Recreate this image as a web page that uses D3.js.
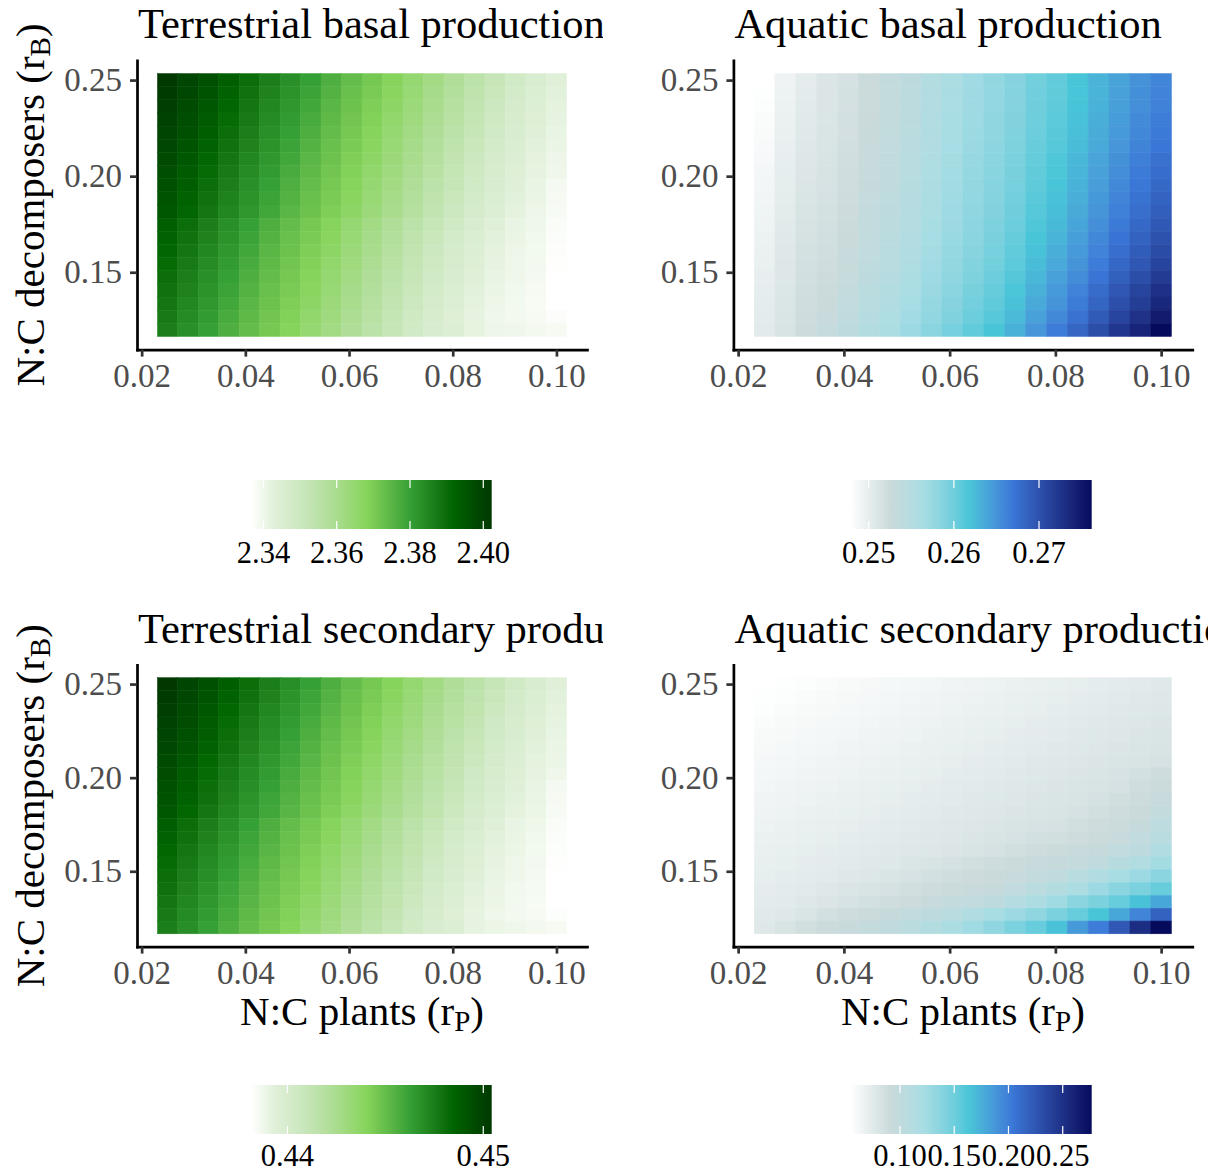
<!DOCTYPE html>
<html>
<head>
<meta charset="utf-8">
<script src="https://cdn.jsdelivr.net/npm/d3@7"></script>
<style>
  body { margin: 0; background: #fff; }
  svg { display: block; }
</style>
</head>
<body>
<svg id="fig" width="1220" height="1174"></svg>
<script>
// ---- grid of parameter values -------------------------------------------
// N:C ratio of plants (x) and decomposers (y); rows below run from rB = 0.25 (top) to 0.12 (bottom)
const rP = [0.025, 0.0289, 0.0329, 0.0368, 0.0408, 0.0447, 0.0487, 0.0526, 0.0566, 0.0605,
            0.0645, 0.0684, 0.0724, 0.0763, 0.0803, 0.0842, 0.0882, 0.0921, 0.0961, 0.10];
const rB = [0.25, 0.2432, 0.2363, 0.2295, 0.2226, 0.2158, 0.2089, 0.2021, 0.1953, 0.1884,
            0.1816, 0.1747, 0.1679, 0.1611, 0.1542, 0.1474, 0.1405, 0.1337, 0.1268, 0.12];

const xTicks = [0.02, 0.04, 0.06, 0.08, 0.10];
const yTicks = [0.15, 0.20, 0.25];

// ---- terrestrial basal production ----------------------------------------
const terrBasal = [
  [2.4023,2.3990,2.3964,2.3931,2.3898,2.3865,2.3832,2.3800,2.3767,2.3734,2.3708,2.3681,2.3649,2.3616,2.3583,2.3550,2.3517,2.3484,2.3458,2.3432],
  [2.4015,2.3984,2.3956,2.3923,2.3890,2.3857,2.3824,2.3792,2.3759,2.3727,2.3701,2.3673,2.3641,2.3608,2.3575,2.3542,2.3509,2.3477,2.3451,2.3427],
  [2.4006,2.3977,2.3947,2.3914,2.3881,2.3848,2.3816,2.3783,2.3750,2.3721,2.3694,2.3665,2.3632,2.3599,2.3566,2.3533,2.3500,2.3471,2.3445,2.3422],
  [2.3998,2.3970,2.3939,2.3906,2.3873,2.3840,2.3808,2.3775,2.3742,2.3714,2.3688,2.3657,2.3624,2.3591,2.3558,2.3525,2.3492,2.3464,2.3438,2.3417],
  [2.3990,2.3964,2.3931,2.3898,2.3865,2.3832,2.3800,2.3767,2.3734,2.3708,2.3681,2.3649,2.3616,2.3583,2.3550,2.3517,2.3484,2.3458,2.3432,2.3412],
  [2.3984,2.3956,2.3923,2.3890,2.3857,2.3824,2.3792,2.3759,2.3727,2.3701,2.3673,2.3641,2.3608,2.3575,2.3542,2.3509,2.3477,2.3451,2.3427,2.3409],
  [2.3977,2.3947,2.3914,2.3881,2.3848,2.3816,2.3783,2.3750,2.3721,2.3694,2.3665,2.3632,2.3599,2.3566,2.3533,2.3500,2.3471,2.3445,2.3422,2.3405],
  [2.3970,2.3939,2.3906,2.3873,2.3840,2.3808,2.3775,2.3742,2.3714,2.3688,2.3657,2.3624,2.3591,2.3558,2.3525,2.3492,2.3464,2.3438,2.3417,2.3402],
  [2.3964,2.3931,2.3898,2.3865,2.3832,2.3800,2.3767,2.3734,2.3708,2.3681,2.3649,2.3616,2.3583,2.3550,2.3517,2.3484,2.3458,2.3432,2.3412,2.3389],
  [2.3956,2.3923,2.3890,2.3857,2.3824,2.3792,2.3759,2.3727,2.3701,2.3673,2.3641,2.3608,2.3575,2.3542,2.3509,2.3477,2.3451,2.3427,2.3409,2.3386],
  [2.3947,2.3914,2.3881,2.3848,2.3816,2.3783,2.3750,2.3721,2.3694,2.3665,2.3632,2.3599,2.3566,2.3533,2.3500,2.3471,2.3445,2.3422,2.3405,2.3382],
  [2.3931,2.3898,2.3865,2.3832,2.3800,2.3767,2.3734,2.3708,2.3681,2.3649,2.3616,2.3583,2.3550,2.3517,2.3484,2.3458,2.3432,2.3412,2.3399,2.3379],
  [2.3923,2.3890,2.3857,2.3824,2.3792,2.3759,2.3727,2.3701,2.3673,2.3641,2.3608,2.3575,2.3542,2.3509,2.3477,2.3451,2.3427,2.3409,2.3396,2.3374],
  [2.3914,2.3881,2.3848,2.3816,2.3783,2.3750,2.3721,2.3694,2.3665,2.3632,2.3599,2.3566,2.3533,2.3500,2.3471,2.3445,2.3422,2.3405,2.3394,2.3371],
  [2.3906,2.3873,2.3840,2.3808,2.3775,2.3742,2.3714,2.3688,2.3657,2.3624,2.3591,2.3558,2.3525,2.3492,2.3464,2.3438,2.3417,2.3402,2.3392,2.3369],
  [2.3898,2.3865,2.3832,2.3800,2.3767,2.3734,2.3708,2.3681,2.3649,2.3616,2.3583,2.3550,2.3517,2.3484,2.3458,2.3432,2.3412,2.3399,2.3389,2.3366],
  [2.3890,2.3857,2.3824,2.3792,2.3759,2.3727,2.3701,2.3673,2.3641,2.3608,2.3575,2.3542,2.3509,2.3477,2.3451,2.3427,2.3409,2.3396,2.3386,2.3366],
  [2.3881,2.3848,2.3816,2.3783,2.3750,2.3721,2.3694,2.3665,2.3632,2.3599,2.3566,2.3533,2.3500,2.3471,2.3445,2.3422,2.3405,2.3394,2.3384,2.3366],
  [2.3873,2.3840,2.3808,2.3775,2.3742,2.3714,2.3688,2.3657,2.3624,2.3591,2.3558,2.3525,2.3492,2.3464,2.3438,2.3417,2.3402,2.3392,2.3386,2.3373],
  [2.3865,2.3832,2.3800,2.3767,2.3734,2.3708,2.3681,2.3649,2.3616,2.3583,2.3550,2.3517,2.3484,2.3458,2.3445,2.3419,2.3405,2.3399,2.3392,2.3386]
];
const terrBasalTicks = [2.34, 2.36, 2.38, 2.40];

// ---- aquatic basal production --------------------------------------------
const aquaBasal = [
  [0.24792,0.24933,0.25018,0.25103,0.25160,0.25244,0.25329,0.25414,0.25527,0.25612,0.25697,0.25781,0.25866,0.25979,0.26064,0.26177,0.26290,0.26403,0.26516,0.26601],
  [0.24806,0.24943,0.25029,0.25105,0.25163,0.25247,0.25332,0.25417,0.25530,0.25615,0.25701,0.25785,0.25871,0.25984,0.26070,0.26184,0.26297,0.26411,0.26525,0.26611],
  [0.24819,0.24954,0.25040,0.25107,0.25165,0.25250,0.25335,0.25420,0.25533,0.25619,0.25704,0.25789,0.25875,0.25989,0.26076,0.26190,0.26305,0.26419,0.26534,0.26621],
  [0.24832,0.24964,0.25051,0.25114,0.25173,0.25258,0.25343,0.25430,0.25543,0.25629,0.25715,0.25801,0.25889,0.26004,0.26094,0.26210,0.26327,0.26444,0.26560,0.26652],
  [0.24846,0.24975,0.25063,0.25118,0.25178,0.25264,0.25349,0.25436,0.25549,0.25636,0.25723,0.25809,0.25898,0.26015,0.26106,0.26223,0.26342,0.26460,0.26577,0.26672],
  [0.24859,0.24985,0.25074,0.25124,0.25185,0.25272,0.25357,0.25445,0.25558,0.25646,0.25734,0.25821,0.25911,0.26030,0.26123,0.26242,0.26364,0.26485,0.26604,0.26703],
  [0.24872,0.24996,0.25085,0.25133,0.25196,0.25284,0.25369,0.25458,0.25571,0.25660,0.25749,0.25836,0.25929,0.26050,0.26147,0.26268,0.26393,0.26518,0.26639,0.26744],
  [0.24886,0.25006,0.25096,0.25139,0.25203,0.25292,0.25377,0.25467,0.25580,0.25670,0.25760,0.25848,0.25943,0.26066,0.26165,0.26288,0.26415,0.26542,0.26665,0.26774],
  [0.24899,0.25016,0.25107,0.25145,0.25211,0.25301,0.25386,0.25476,0.25589,0.25680,0.25771,0.25860,0.25957,0.26081,0.26183,0.26307,0.26437,0.26567,0.26691,0.26805],
  [0.24913,0.25027,0.25118,0.25154,0.25221,0.25312,0.25397,0.25489,0.25602,0.25693,0.25785,0.25876,0.25975,0.26101,0.26207,0.26333,0.26466,0.26600,0.26726,0.26845],
  [0.24926,0.25037,0.25130,0.25162,0.25231,0.25323,0.25408,0.25501,0.25614,0.25707,0.25800,0.25892,0.25993,0.26122,0.26230,0.26359,0.26496,0.26633,0.26761,0.26886],
  [0.24939,0.25048,0.25141,0.25173,0.25244,0.25337,0.25422,0.25517,0.25630,0.25724,0.25818,0.25912,0.26015,0.26147,0.26260,0.26392,0.26533,0.26674,0.26805,0.26937],
  [0.24953,0.25058,0.25152,0.25186,0.25259,0.25354,0.25439,0.25535,0.25648,0.25744,0.25840,0.25935,0.26042,0.26178,0.26296,0.26431,0.26577,0.26723,0.26858,0.26998],
  [0.24966,0.25068,0.25163,0.25196,0.25272,0.25368,0.25453,0.25551,0.25664,0.25761,0.25859,0.25955,0.26065,0.26203,0.26325,0.26463,0.26613,0.26764,0.26902,0.27049],
  [0.24980,0.25079,0.25174,0.25209,0.25287,0.25385,0.25470,0.25570,0.25683,0.25782,0.25881,0.25979,0.26092,0.26234,0.26361,0.26502,0.26658,0.26813,0.26954,0.27110],
  [0.24993,0.25089,0.25185,0.25226,0.25308,0.25408,0.25493,0.25594,0.25707,0.25809,0.25910,0.26011,0.26128,0.26274,0.26408,0.26554,0.26716,0.26879,0.27024,0.27191],
  [0.25006,0.25100,0.25197,0.25245,0.25330,0.25433,0.25518,0.25622,0.25735,0.25839,0.25943,0.26046,0.26169,0.26320,0.26462,0.26613,0.26783,0.26952,0.27103,0.27283],
  [0.25020,0.25110,0.25208,0.25262,0.25351,0.25456,0.25541,0.25647,0.25760,0.25866,0.25973,0.26078,0.26205,0.26361,0.26509,0.26665,0.26841,0.27018,0.27173,0.27364],
  [0.25033,0.25121,0.25219,0.25285,0.25379,0.25487,0.25572,0.25682,0.25795,0.25904,0.26013,0.26121,0.26255,0.26417,0.26575,0.26736,0.26922,0.27108,0.27270,0.27476],
  [0.25046,0.25131,0.25230,0.25315,0.25414,0.25527,0.25612,0.25725,0.25838,0.25951,0.26065,0.26177,0.26318,0.26488,0.26658,0.26827,0.27025,0.27223,0.27392,0.27619]
];
const aquaBasalTicks = [0.25, 0.26, 0.27];

// ---- terrestrial secondary production ------------------------------------
const terrSecondary = [
  [0.45043,0.44982,0.44932,0.44871,0.44810,0.44748,0.44687,0.44625,0.44564,0.44502,0.44453,0.44404,0.44343,0.44281,0.44220,0.44158,0.44097,0.44035,0.43986,0.43937],
  [0.45028,0.44970,0.44917,0.44856,0.44795,0.44733,0.44672,0.44610,0.44549,0.44490,0.44441,0.44389,0.44328,0.44266,0.44205,0.44143,0.44082,0.44023,0.43974,0.43928],
  [0.45013,0.44957,0.44902,0.44840,0.44779,0.44718,0.44656,0.44595,0.44533,0.44478,0.44429,0.44373,0.44312,0.44251,0.44189,0.44128,0.44066,0.44011,0.43962,0.43919],
  [0.44997,0.44945,0.44886,0.44825,0.44764,0.44702,0.44641,0.44579,0.44518,0.44465,0.44416,0.44358,0.44297,0.44235,0.44174,0.44112,0.44051,0.43998,0.43949,0.43909],
  [0.44982,0.44932,0.44871,0.44810,0.44748,0.44687,0.44625,0.44564,0.44502,0.44453,0.44404,0.44343,0.44281,0.44220,0.44158,0.44097,0.44035,0.43986,0.43937,0.43900],
  [0.44970,0.44917,0.44856,0.44795,0.44733,0.44672,0.44610,0.44549,0.44490,0.44441,0.44389,0.44328,0.44266,0.44205,0.44143,0.44082,0.44023,0.43974,0.43928,0.43894],
  [0.44957,0.44902,0.44840,0.44779,0.44718,0.44656,0.44595,0.44533,0.44478,0.44429,0.44373,0.44312,0.44251,0.44189,0.44128,0.44066,0.44011,0.43962,0.43919,0.43888],
  [0.44945,0.44886,0.44825,0.44764,0.44702,0.44641,0.44579,0.44518,0.44465,0.44416,0.44358,0.44297,0.44235,0.44174,0.44112,0.44051,0.43998,0.43949,0.43909,0.43882],
  [0.44932,0.44871,0.44810,0.44748,0.44687,0.44625,0.44564,0.44502,0.44453,0.44404,0.44343,0.44281,0.44220,0.44158,0.44097,0.44035,0.43986,0.43937,0.43900,0.43857],
  [0.44917,0.44856,0.44795,0.44733,0.44672,0.44610,0.44549,0.44490,0.44441,0.44389,0.44328,0.44266,0.44205,0.44143,0.44082,0.44023,0.43974,0.43928,0.43894,0.43851],
  [0.44902,0.44840,0.44779,0.44718,0.44656,0.44595,0.44533,0.44478,0.44429,0.44373,0.44312,0.44251,0.44189,0.44128,0.44066,0.44011,0.43962,0.43919,0.43888,0.43845],
  [0.44871,0.44810,0.44748,0.44687,0.44625,0.44564,0.44502,0.44453,0.44404,0.44343,0.44281,0.44220,0.44158,0.44097,0.44035,0.43986,0.43937,0.43900,0.43876,0.43839],
  [0.44856,0.44795,0.44733,0.44672,0.44610,0.44549,0.44490,0.44441,0.44389,0.44328,0.44266,0.44205,0.44143,0.44082,0.44023,0.43974,0.43928,0.43894,0.43871,0.43829],
  [0.44840,0.44779,0.44718,0.44656,0.44595,0.44533,0.44478,0.44429,0.44373,0.44312,0.44251,0.44189,0.44128,0.44066,0.44011,0.43962,0.43919,0.43888,0.43867,0.43824],
  [0.44825,0.44764,0.44702,0.44641,0.44579,0.44518,0.44465,0.44416,0.44358,0.44297,0.44235,0.44174,0.44112,0.44051,0.43998,0.43949,0.43909,0.43882,0.43862,0.43819],
  [0.44810,0.44748,0.44687,0.44625,0.44564,0.44502,0.44453,0.44404,0.44343,0.44281,0.44220,0.44158,0.44097,0.44035,0.43986,0.43937,0.43900,0.43876,0.43857,0.43814],
  [0.44795,0.44733,0.44672,0.44610,0.44549,0.44490,0.44441,0.44389,0.44328,0.44266,0.44205,0.44143,0.44082,0.44023,0.43974,0.43928,0.43894,0.43871,0.43853,0.43814],
  [0.44779,0.44718,0.44656,0.44595,0.44533,0.44478,0.44429,0.44373,0.44312,0.44251,0.44189,0.44128,0.44066,0.44011,0.43962,0.43919,0.43888,0.43867,0.43848,0.43814],
  [0.44764,0.44702,0.44641,0.44579,0.44518,0.44465,0.44416,0.44358,0.44297,0.44235,0.44174,0.44112,0.44051,0.43998,0.43949,0.43909,0.43882,0.43863,0.43851,0.43826],
  [0.44748,0.44687,0.44625,0.44564,0.44502,0.44453,0.44404,0.44343,0.44281,0.44220,0.44158,0.44097,0.44035,0.43986,0.43961,0.43912,0.43888,0.43876,0.43863,0.43851]
];
const terrSecondaryTicks = [0.44, 0.45];

// ---- aquatic secondary production ----------------------------------------
const aquaSecondary = [
  [0.0549,0.0560,0.0571,0.0582,0.0593,0.0604,0.0616,0.0627,0.0638,0.0649,0.0660,0.0671,0.0682,0.0693,0.0704,0.0715,0.0726,0.0738,0.0749,0.0760],
  [0.0560,0.0571,0.0582,0.0593,0.0604,0.0616,0.0627,0.0638,0.0649,0.0660,0.0671,0.0682,0.0693,0.0704,0.0715,0.0726,0.0738,0.0749,0.0760,0.0771],
  [0.0571,0.0582,0.0593,0.0604,0.0616,0.0627,0.0638,0.0649,0.0660,0.0671,0.0682,0.0693,0.0704,0.0715,0.0726,0.0738,0.0749,0.0760,0.0771,0.0782],
  [0.0582,0.0593,0.0604,0.0616,0.0627,0.0638,0.0649,0.0660,0.0671,0.0682,0.0693,0.0704,0.0715,0.0726,0.0738,0.0749,0.0760,0.0771,0.0782,0.0793],
  [0.0593,0.0604,0.0616,0.0627,0.0638,0.0649,0.0660,0.0671,0.0682,0.0693,0.0704,0.0715,0.0726,0.0738,0.0749,0.0760,0.0771,0.0782,0.0793,0.0804],
  [0.0604,0.0616,0.0627,0.0638,0.0649,0.0660,0.0671,0.0682,0.0693,0.0704,0.0715,0.0726,0.0738,0.0749,0.0760,0.0771,0.0782,0.0793,0.0804,0.0815],
  [0.0616,0.0627,0.0638,0.0649,0.0660,0.0671,0.0682,0.0693,0.0704,0.0715,0.0726,0.0738,0.0749,0.0760,0.0771,0.0782,0.0793,0.0804,0.0815,0.0837],
  [0.0627,0.0638,0.0649,0.0660,0.0671,0.0682,0.0693,0.0704,0.0715,0.0726,0.0738,0.0749,0.0760,0.0771,0.0782,0.0793,0.0804,0.0826,0.0848,0.0882],
  [0.0638,0.0649,0.0660,0.0671,0.0682,0.0693,0.0704,0.0715,0.0726,0.0738,0.0749,0.0760,0.0771,0.0782,0.0793,0.0804,0.0815,0.0837,0.0871,0.0904],
  [0.0649,0.0660,0.0671,0.0682,0.0693,0.0704,0.0715,0.0726,0.0738,0.0749,0.0760,0.0771,0.0782,0.0793,0.0804,0.0815,0.0837,0.0860,0.0893,0.0937],
  [0.0660,0.0671,0.0682,0.0693,0.0704,0.0715,0.0726,0.0738,0.0749,0.0760,0.0771,0.0782,0.0793,0.0804,0.0815,0.0837,0.0860,0.0882,0.0915,0.0970],
  [0.0671,0.0682,0.0693,0.0704,0.0715,0.0726,0.0738,0.0749,0.0760,0.0771,0.0782,0.0793,0.0815,0.0826,0.0837,0.0860,0.0882,0.0904,0.0948,0.1026],
  [0.0682,0.0693,0.0704,0.0715,0.0726,0.0738,0.0749,0.0760,0.0771,0.0782,0.0793,0.0815,0.0826,0.0848,0.0860,0.0882,0.0904,0.0937,0.0993,0.1081],
  [0.0693,0.0704,0.0715,0.0726,0.0738,0.0749,0.0760,0.0771,0.0782,0.0793,0.0815,0.0837,0.0860,0.0882,0.0904,0.0926,0.0948,0.0993,0.1037,0.1148],
  [0.0704,0.0715,0.0726,0.0738,0.0749,0.0760,0.0771,0.0793,0.0815,0.0837,0.0860,0.0882,0.0904,0.0926,0.0948,0.0970,0.1015,0.1092,0.1148,0.1237],
  [0.0715,0.0726,0.0738,0.0749,0.0771,0.0782,0.0804,0.0826,0.0848,0.0871,0.0893,0.0915,0.0937,0.0970,0.1015,0.1081,0.1148,0.1214,0.1281,0.1370],
  [0.0726,0.0738,0.0749,0.0771,0.0793,0.0815,0.0837,0.0860,0.0882,0.0904,0.0926,0.0948,0.0993,0.1059,0.1126,0.1192,0.1281,0.1370,0.1436,0.1525],
  [0.0738,0.0749,0.0771,0.0793,0.0826,0.0848,0.0871,0.0893,0.0926,0.0970,0.0993,0.1037,0.1104,0.1170,0.1259,0.1370,0.1436,0.1525,0.1658,0.1791],
  [0.0753,0.0771,0.0804,0.0848,0.0882,0.0904,0.0948,0.0993,0.1037,0.1081,0.1148,0.1214,0.1281,0.1347,0.1436,0.1525,0.1636,0.1791,0.1969,0.2168],
  [0.0771,0.0815,0.0860,0.0904,0.0926,0.0970,0.1015,0.1059,0.1126,0.1192,0.1259,0.1347,0.1436,0.1525,0.1658,0.1858,0.2013,0.2235,0.2523,0.2767]
];
const aquaSecondaryTicks = [0.10, 0.15, 0.20, 0.25];

// ---- colour ramps (positions along the value range, 0 = min, 1 = max) -----
const greenPos = [0, 0.10, 0.19, 0.33, 0.48, 0.66, 0.84, 1];
const greenCols = ["#ffffff", "#e0f0d8", "#cfe9c4", "#b0de98", "#86d45b", "#35a035", "#006400", "#003800"];
const bluePos = [0, 0.16, 0.30, 0.49, 0.67, 1];
const blueCols = ["#ffffff", "#cbdadb", "#a8dde4", "#48c6d8", "#3b78d8", "#060a5c"];

// ---- layout ---------------------------------------------------------------
const FONT = "'Liberation Serif', 'Times New Roman', serif";
const W = 1220, H = 1174;
const cols = [
  { left: 137, right: 587, clipL: 0, clipR: 603, legL: 251, legR: 491.7 },
  { left: 733.4, right: 1192.3, clipL: 606, clipR: 1208, legL: 851, legR: 1091.7 }
];
const rowsL = [
  { top: 60.4, bottom: 349.6, titleY: 38, legTop: 480, legLabelY: 563 },
  { top: 664.9, bottom: 946.6, titleY: 643, legTop: 1085, legLabelY: 1166 }
];

const panels = [
  { title: "Terrestrial basal production", data: terrBasal, ticks: terrBasalTicks, pos: greenPos, colors: greenCols, c: 0, r: 0 },
  { title: "Aquatic basal production", data: aquaBasal, ticks: aquaBasalTicks, pos: bluePos, colors: blueCols, c: 1, r: 0 },
  { title: "Terrestrial secondary production", data: terrSecondary, ticks: terrSecondaryTicks, pos: greenPos, colors: greenCols, c: 0, r: 1 },
  { title: "Aquatic secondary production", data: aquaSecondary, ticks: aquaSecondaryTicks, pos: bluePos, colors: blueCols, c: 1, r: 1 }
];

const svg = d3.select("#fig");
svg.append("rect").attr("width", W).attr("height", H).attr("fill", "#fff");
const defs = svg.append("defs");

// tile edges: midpoints between neighbouring grid values
function edges(vals) {
  return vals.map((v, i) => {
    const prev = i > 0 ? vals[i - 1] : v - (vals[1] - vals[0]);
    const next = i < vals.length - 1 ? vals[i + 1] : v + (v - vals[i - 1]);
    return [(prev + v) / 2, (v + next) / 2];
  });
}
const xEdges = edges(rP);
const yEdges = edges(rB);

function expanded(edgeList) {
  const lo = d3.min(edgeList, e => Math.min(e[0], e[1]));
  const hi = d3.max(edgeList, e => Math.max(e[0], e[1]));
  const pad = (hi - lo) * 0.05;
  return [lo - pad, hi + pad];
}
const xDomain = expanded(xEdges);
const yDomain = expanded(yEdges);

const fmt = d3.format(".2f");

panels.forEach((p, pi) => {
  const C = cols[p.c], R = rowsL[p.r];
  const x = d3.scaleLinear().domain(xDomain).range([C.left, C.right]);
  const y = d3.scaleLinear().domain(yDomain).range([R.bottom, R.top]);

  const ext = d3.extent(p.data.flat());
  const color = d3.scaleLinear()
    .domain(p.pos.map(t => ext[0] + t * (ext[1] - ext[0])))
    .range(p.colors)
    .interpolate(d3.interpolateLab)
    .clamp(true);

  // tiles
  const cells = [];
  p.data.forEach((row, ri) => row.forEach((v, ci) => cells.push({ ri, ci, v })));
  svg.append("g").selectAll("rect").data(cells).join("rect")
    .attr("x", d => x(xEdges[d.ci][0]))
    .attr("width", d => x(xEdges[d.ci][1]) - x(xEdges[d.ci][0]))
    .attr("y", d => y(yEdges[d.ri][0]))
    .attr("height", d => y(yEdges[d.ri][1]) - y(yEdges[d.ri][0]))
    .attr("fill", d => color(d.v))
    .attr("stroke", d => color(d.v))
    .attr("stroke-width", 0.5);

  // axes
  const gx = svg.append("g").attr("transform", `translate(0,${R.bottom})`)
    .call(d3.axisBottom(x).tickValues(xTicks).tickFormat(fmt).tickSize(7).tickSizeOuter(0).tickPadding(7));
  const gy = svg.append("g").attr("transform", `translate(${C.left},0)`)
    .call(d3.axisLeft(y).tickValues(yTicks).tickFormat(fmt).tickSize(7).tickSizeOuter(0).tickPadding(8));
  [gx, gy].forEach(g => {
    g.select(".domain").attr("stroke", "#000").attr("stroke-width", 2.7).attr("stroke-linecap", "square");
    g.selectAll(".tick line").attr("stroke", "#333").attr("stroke-width", 2.7);
    g.selectAll(".tick text").attr("fill", "#4d4d4d").style("font-family", FONT).style("font-size", "33px");
  });

  // title, clipped to its cell
  const clipId = "clip" + pi;
  defs.append("clipPath").attr("id", clipId).append("rect")
    .attr("x", C.clipL).attr("y", R.titleY - 45).attr("width", C.clipR - C.clipL).attr("height", 60);
  svg.append("text")
    .attr("clip-path", `url(#${clipId})`)
    .attr("x", C.left + 1).attr("y", R.titleY)
    .style("font-family", FONT).style("font-size", "42.5px").attr("fill", "#000")
    .text(p.title);

  // y-axis title on the left column
  if (p.c === 0) {
    const t = svg.append("text")
      .attr("transform", `translate(44,${(R.top + R.bottom) / 2}) rotate(-90)`)
      .attr("text-anchor", "middle")
      .style("font-family", FONT).style("font-size", "41px").attr("fill", "#000");
    t.append("tspan").text("N:C decomposers (r");
    t.append("tspan").attr("baseline-shift", "-22%").style("font-size", "29px").text("B");
    t.append("tspan").text(")");
  }
  // x-axis title on the bottom row
  if (p.r === 1) {
    const t = svg.append("text")
      .attr("x", (C.left + C.right) / 2).attr("y", 1025)
      .attr("text-anchor", "middle")
      .style("font-family", FONT).style("font-size", "41px").attr("fill", "#000");
    t.append("tspan").text("N:C plants (r");
    t.append("tspan").attr("baseline-shift", "-22%").style("font-size", "29px").text("P");
    t.append("tspan").text(")");
  }

  // colour bar legend
  const lx = d3.scaleLinear().domain(ext).range([C.legL, C.legR]);
  const gradId = "grad" + pi;
  const grad = defs.append("linearGradient").attr("id", gradId)
    .attr("x1", "0%").attr("x2", "100%").attr("y1", "0%").attr("y2", "0%");
  d3.range(0, 1.0001, 0.02).forEach(t => {
    grad.append("stop").attr("offset", (t * 100) + "%")
      .attr("stop-color", color(ext[0] + t * (ext[1] - ext[0])));
  });
  const barH = 49;
  svg.append("rect").attr("x", C.legL).attr("y", R.legTop)
    .attr("width", C.legR - C.legL).attr("height", barH)
    .attr("fill", `url(#${gradId})`);
  const lg = svg.append("g");
  p.ticks.forEach(tv => {
    const tx = lx(tv);
    lg.append("line").attr("x1", tx).attr("x2", tx).attr("y1", R.legTop).attr("y2", R.legTop + 8)
      .attr("stroke", "#fff").attr("stroke-width", 1.2);
    lg.append("line").attr("x1", tx).attr("x2", tx).attr("y1", R.legTop + barH - 8).attr("y2", R.legTop + barH)
      .attr("stroke", "#fff").attr("stroke-width", 1.2);
    lg.append("text").attr("x", tx).attr("y", R.legLabelY).attr("text-anchor", "middle")
      .style("font-family", FONT).style("font-size", "30.5px").attr("fill", "#000")
      .text(fmt(tv));
  });
});
</script>
</body>
</html>
